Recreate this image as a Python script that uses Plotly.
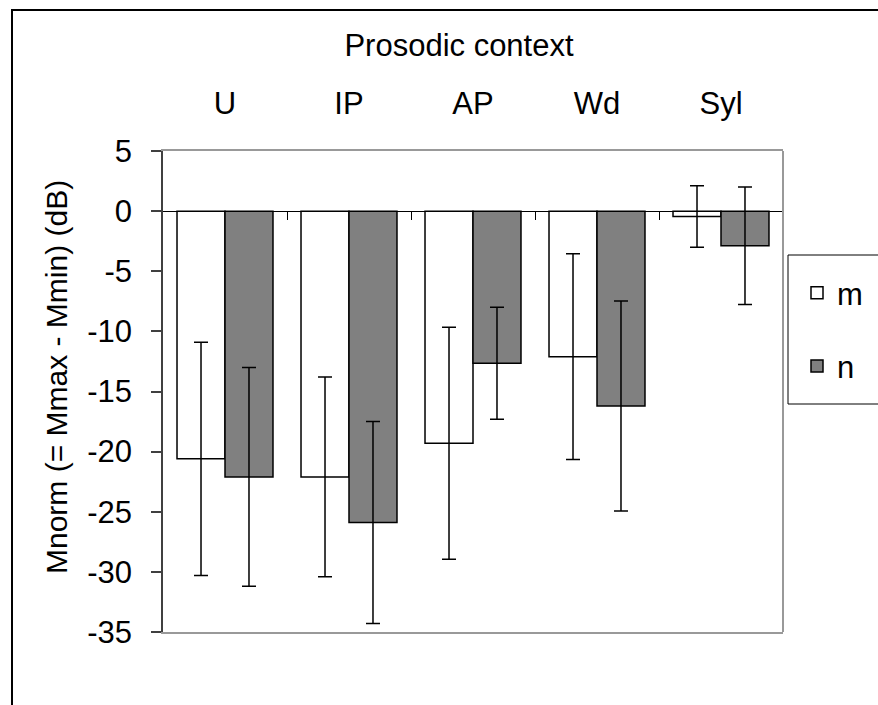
import plotly.graph_objects as go

categories = ["U", "IP", "AP", "Wd", "Syl"]
m_vals = [-20.6, -22.1, -19.3, -12.1, -0.45]
m_err = [9.7, 8.3, 9.65, 8.55, 2.56]
n_vals = [-22.1, -25.9, -12.65, -16.2, -2.88]
n_err = [9.1, 8.4, 4.65, 8.73, 4.88]
y_ticks = [5, 0, -5, -10, -15, -20, -25, -30, -35]
y_tick_text = ["5", "0", "-5", "-10", "-15", "-20", "-25", "-30", "-35"]
boundary_ticks = [0.5, 1.5, 2.5, 3.5, 4.5]

FONT = "Arial, Liberation Sans, sans-serif"
W, H = 878, 705
L, R, T, B = 163, 95, 151, 73
PW, PH = W - L - R, H - T - B


def px_x(p):
    return (p - L) / PW


def px_y(p):
    return (H - B - p) / PH


fig = go.Figure()
fig.add_trace(go.Bar(
    x=categories, y=m_vals, name="m", legendgroup="m",
    marker=dict(color="white", line=dict(color="black", width=1.5)),
    error_y=dict(type="data", array=m_err, visible=True, color="black", thickness=1.5, width=7),
))
fig.add_trace(go.Bar(
    x=categories, y=n_vals, name="n", legendgroup="n",
    marker=dict(color="#808080", line=dict(color="black", width=1.5)),
    error_y=dict(type="data", array=n_err, visible=True, color="black", thickness=1.5, width=7),
))
# carrier for the category-boundary tick axis drawn along y = 0
fig.add_trace(go.Scatter(x=[], y=[], xaxis="x2", yaxis="y", showlegend=False,
                         hoverinfo="skip", mode="lines"))

fig.update_layout(
    width=W, height=H,
    margin=dict(l=L, r=R, t=T, b=B, autoexpand=False),
    paper_bgcolor="white", plot_bgcolor="white",
    font=dict(family=FONT, size=31, color="black"),
    barmode="group", bargap=0.226, bargroupgap=0,
    title=dict(text="Prosodic context", xref="container", yref="container",
               x=459 / W, y=1 - 45 / H, xanchor="center", yanchor="middle",
               font=dict(family=FONT, size=31, color="black")),
    xaxis=dict(side="top", type="category", showline=True, linecolor="#999999", linewidth=2,
               mirror=True, ticks="", showgrid=False, zeroline=False,
               ticklabelstandoff=23, automargin=False,
               tickfont=dict(family=FONT, size=31, color="black")),
    xaxis2=dict(overlaying="x", anchor="free", position=35 / 40, side="bottom",
                type="linear", range=[-0.5, 4.5], tickvals=boundary_ticks,
                ticks="outside", ticklen=8, tickwidth=1, tickcolor="black",
                showticklabels=False, showline=False, showgrid=False, zeroline=False),
    yaxis=dict(range=[-35, 5], tickvals=y_ticks, ticktext=y_tick_text,
               showline=True, linecolor="#404040", linewidth=1.5,
               ticks="outside", ticklen=10, tickcolor="#404040", tickwidth=1.5,
               showgrid=False, zeroline=True, zerolinecolor="black", zerolinewidth=1.2,
               ticklabelstandoff=13, automargin=False,
               tickfont=dict(family=FONT, size=31, color="black")),
    showlegend=True,
    legend=dict(x=px_x(797), y=px_y(266), xanchor="left", yanchor="top",
                bgcolor="rgba(0,0,0,0)", borderwidth=0, tracegroupgap=30,
                font=dict(family=FONT, size=31, color="black")),
)

fig.add_annotation(text="Mnorm (= Mmax - Mmin) (dB)", xref="paper", yref="paper",
                   x=px_x(56), y=px_y(377), xanchor="center", yanchor="middle",
                   textangle=-90, showarrow=False,
                   font=dict(family=FONT, size=30, color="black"))

# right plot border
fig.add_shape(type="line", xref="paper", yref="paper", x0=1, x1=1, y0=0, y1=1,
              line=dict(color="#999999", width=2))
# legend box
fig.add_shape(type="rect", xref="paper", yref="paper",
              x0=px_x(788), x1=px_x(900), y0=px_y(404), y1=px_y(255),
              line=dict(color="black", width=1))
# outer chart border
fig.add_shape(type="rect", xref="paper", yref="paper",
              x0=px_x(12), x1=px_x(900), y0=px_y(720), y1=px_y(10),
              line=dict(color="black", width=2))

fig.write_html("out.html")
